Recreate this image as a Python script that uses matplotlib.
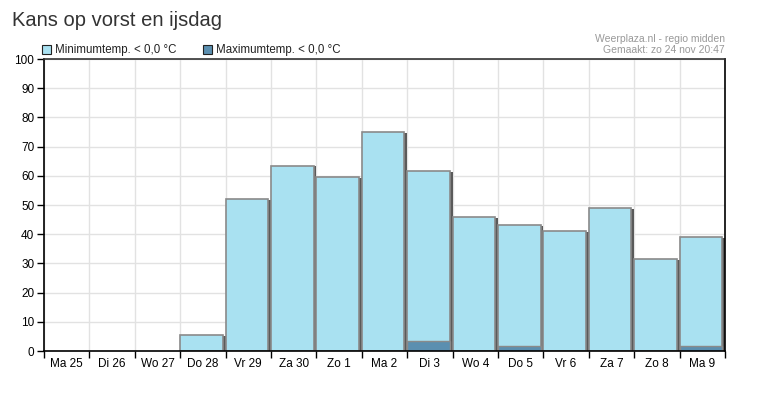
import numpy as np
import matplotlib.pyplot as plt

plt.rcParams['font.family'] = ['Liberation Sans', 'DejaVu Sans']

# days shown on the x axis
days = ['Ma 25', 'Di 26', 'Wo 27', 'Do 28', 'Vr 29', 'Za 30', 'Zo 1', 'Ma 2',
        'Di 3', 'Wo 4', 'Do 5', 'Vr 6', 'Za 7', 'Zo 8', 'Ma 9']
# chance (%) min temp < 0
min_temp = [0, 0, 0, 5.5, 52, 63.5, 59.5, 75, 61.5, 46, 43, 41, 49, 31.5, 39]
# chance (%) max temp < 0
max_temp = [0, 0, 0, 0, 0, 0, 0, 0, 3.5, 0, 1.6, 0, 0, 0, 1.6]

light = '#a9e1f1'
dark = '#5b8fb0'

fig = plt.figure(figsize=(7.65, 3.99), dpi=100)
ax = fig.add_axes([44 / 765, 1 - 351 / 399, 681 / 765, 292 / 399])

x = np.arange(len(days))
sw = 0.06  # shadow strip on the right of each bar
for xi, v in zip(x, min_temp):
    if v > 0:
        # dark shadow behind, full slot width
        ax.bar(xi - 0.5, v - 0.3, width=1.0, align='edge', color='#5a5a5a',
               linewidth=0, zorder=2)
        ax.bar(xi - 0.5, v, width=1.0 - sw, align='edge', color=light,
               edgecolor='#8a8a8a', linewidth=1.2, zorder=3)
for xi, v in zip(x, max_temp):
    if v > 0:
        ax.bar(xi - 0.5, v, width=1.0 - sw, align='edge', color=dark,
               edgecolor='#8a8a8a', linewidth=1.0, zorder=4)

ax.set_xlim(-0.5, len(days) - 0.5)
ax.set_ylim(0, 100)
ax.set_yticks(range(0, 101, 10))
ax.set_xticks(x)
ax.set_xticklabels(days)
ax.set_xticks(np.arange(-0.5, len(days)), minor=True)
ax.tick_params(axis='x', which='major', length=0, labelsize=8.5, pad=5)
ax.tick_params(axis='x', which='minor', length=5, width=1, color='black')
ax.tick_params(axis='y', length=5, width=1, labelsize=8.5, pad=2)
ax.grid(axis='y', color='#e2e2e2', linewidth=1, zorder=0)
ax.grid(axis='x', which='minor', color='#e2e2e2', linewidth=1, zorder=0)
ax.set_axisbelow(True)
for s in ax.spines.values():
    s.set_color('black')
    s.set_linewidth(1.2)
    s.set_zorder(5)
ax.spines['top'].set_color('#333333')

fig.text(12 / 765, 1 - 20 / 399, 'Kans op vorst en ijsdag', fontsize=14.5,
         color='#333333', va='center', ha='left')

# legend
lx = [42, 203]
labels = ['Minimumtemp. < 0,0 °C', 'Maximumtemp. < 0,0 °C']
for px, col, lab in zip(lx, [light, dark], labels):
    fig.patches.append(plt.Rectangle((px / 765, 1 - 54 / 399), 9 / 765, 9 / 399,
                                     transform=fig.transFigure, facecolor=col,
                                     edgecolor='#222222', linewidth=0.8))
    fig.text((px + 13) / 765, 1 - 49.5 / 399, lab, fontsize=8.3, va='center',
             ha='left', color='#222222')

fig.text(725 / 765, 1 - 39 / 399, 'Weerplaza.nl - regio midden', fontsize=7.5,
         color='#999999', ha='right', va='center')
fig.text(725 / 765, 1 - 50 / 399, 'Gemaakt: zo 24 nov 20:47', fontsize=7.5,
         color='#999999', ha='right', va='center')

fig.savefig('out.png', dpi=100)
